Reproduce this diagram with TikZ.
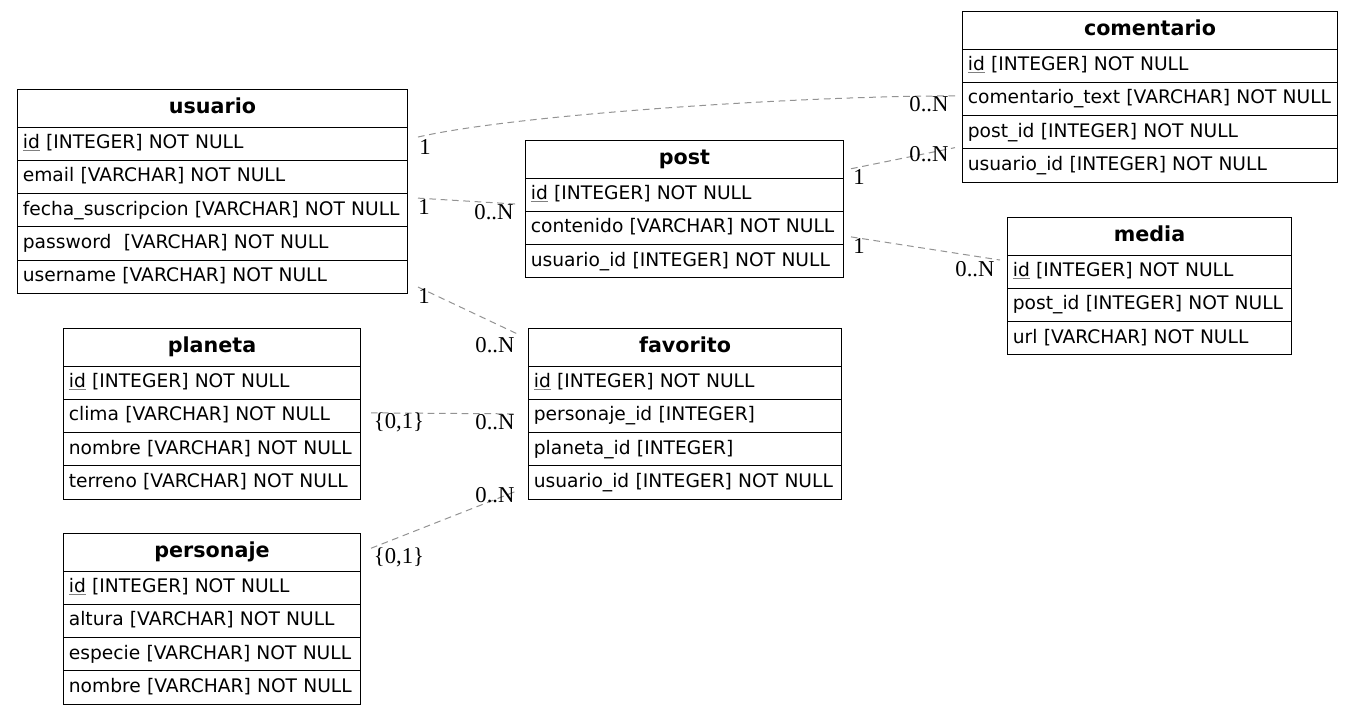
\documentclass[tikz,border=0pt]{standalone}
\usepackage{fontspec}
\setmainfont{DejaVu Sans}
\newfontfamily\lblfont{Liberation Serif}
\usetikzlibrary{calc}
\newcommand\pkey[1]{\textcolor{gray}{\underline{\textcolor{black}{#1}}}}
\tikzset{
  hdr/.style={draw=black, line width=0.75pt, anchor=north west, inner xsep=4pt, inner ysep=0pt,
    minimum height=28.125pt, font=\fontsize{15.5}{17}\selectfont\bfseries, text height=11.2pt, text depth=3pt},
  rowbox/.style={draw=black, line width=0.75pt, anchor=north west, inner xsep=4pt, inner ysep=0pt,
    minimum height=24.94pt, align=left, font=\fontsize{14}{16}\selectfont, text height=10.2pt, text depth=2.8pt},
  rel/.style={draw=gray!85, line width=0.75pt, dash pattern=on 5pt off 3.5pt},
  lbl/.style={font=\lblfont\fontsize{17}{19}\selectfont, inner sep=0pt}
}
\newcommand\ertab[6]{%
  \node[hdr, minimum width=#4*0.75pt] (#1) at (#2,#3) {#5};
  \foreach \r [count=\i] in {#6} {
    \node[rowbox, text width=#4*0.75pt-8pt] (#1-\i) at (#2,{#3+37.5+(\i-1)*33.25}) {\r};
  }%
}
\begin{document}
\begin{tikzpicture}[x=0.75pt,y=-0.75pt]
\useasboundingbox (0,0) rectangle (1352,715);
\fill[white] (0,0) rectangle (1352,715);

\ertab{usuario}{17}{89}{390}{usuario}{{\pkey{id} [INTEGER] NOT NULL},{email [VARCHAR] NOT NULL},{fecha\_suscripcion [VARCHAR] NOT NULL},{password\ \ [VARCHAR] NOT NULL},{username [VARCHAR] NOT NULL}}
\ertab{comentario}{962}{11}{375}{comentario}{{\pkey{id} [INTEGER] NOT NULL},{comentario\_text [VARCHAR] NOT NULL},{post\_id [INTEGER] NOT NULL},{usuario\_id [INTEGER] NOT NULL}}
\ertab{post}{525}{140}{318}{post}{{\pkey{id} [INTEGER] NOT NULL},{contenido [VARCHAR] NOT NULL},{usuario\_id [INTEGER] NOT NULL}}
\ertab{media}{1007}{217}{284}{media}{{\pkey{id} [INTEGER] NOT NULL},{post\_id [INTEGER] NOT NULL},{url [VARCHAR] NOT NULL}}
\ertab{planeta}{63}{328}{297}{planeta}{{\pkey{id} [INTEGER] NOT NULL},{clima [VARCHAR] NOT NULL},{nombre [VARCHAR] NOT NULL},{terreno [VARCHAR] NOT NULL}}
\ertab{favorito}{528}{328}{313}{favorito}{{\pkey{id} [INTEGER] NOT NULL},{personaje\_id [INTEGER]},{planeta\_id [INTEGER]},{usuario\_id [INTEGER] NOT NULL}}
\ertab{personaje}{63}{533}{297}{personaje}{{\pkey{id} [INTEGER] NOT NULL},{altura [VARCHAR] NOT NULL},{especie [VARCHAR] NOT NULL},{nombre [VARCHAR] NOT NULL}}

% connector end points
\coordinate (s1) at ($(usuario-1.east)+(10,-6.6)$);
\coordinate (e1) at ($(comentario-2.west)+(-7,-3)$);
\coordinate (s2) at ($(usuario-3.east)+(10,-12)$);
\coordinate (e2) at ($(post-1.west)+(-8,9.5)$);
\coordinate (s3) at ($(usuario-5.east)+(10,10.4)$);
\coordinate (e3) at ($(favorito.west)+(-11,-13.5)$);
\coordinate (s4) at ($(post.east)+(7,9.5)$);
\coordinate (e4) at ($(comentario-3.west)+(-7,15.5)$);
\coordinate (s5) at ($(post-2.east)+(7,9)$);
\coordinate (e5) at ($(media-1.west)+(-7,-11.6)$);
\coordinate (s6) at ($(planeta-2.east)+(10,-3)$);
\coordinate (e6) at ($(favorito-2.west)+(-11,-2)$);
\coordinate (s7) at ($(personaje.east)+(10,-4)$);
\coordinate (e7) at ($(favorito-4.west)+(-11,8.5)$);

\draw[rel] (s1) .. controls +(100,-23) and +(-150,0) .. (e1);
\draw[rel] (s2) -- (e2);
\draw[rel] (s3) -- (e3);
\draw[rel] (s4) -- (e4);
\draw[rel] (s5) -- (e5);
\draw[rel] (s6) -- (e6);
\draw[rel] (s7) -- (e7);

\node[lbl] (l1a) at ($(s1)+(7,10)$) {1};
\node[lbl] (l1b) at ($(e1)+(-26,8)$) {0..N};
\node[lbl] (l2a) at ($(s2)+(6,9)$) {1};
\node[lbl] (l2b) at ($(e2)+(-23,8)$) {0..N};
\node[lbl] (l3a) at ($(s3)+(6,9)$) {1};
\node[lbl] (l3b) at ($(e3)+(-22,11)$) {0..N};
\node[lbl] (l4a) at ($(s4)+(8,8)$) {1};
\node[lbl] (l4b) at ($(e4)+(-26,6)$) {0..N};
\node[lbl] (l5a) at ($(s5)+(8,9)$) {1};
\node[lbl] (l5b) at ($(e5)+(-25,9)$) {0..N};
\node[lbl] (l6a) at ($(s6)+(28,9)$) {\{0,1\}};
\node[lbl] (l6b) at ($(e6)+(-22,8)$) {0..N};
\node[lbl] (l7a) at ($(s7)+(28,9)$) {\{0,1\}};
\node[lbl] (l7b) at ($(e7)+(-22,4)$) {0..N};
\end{tikzpicture}
\end{document}
